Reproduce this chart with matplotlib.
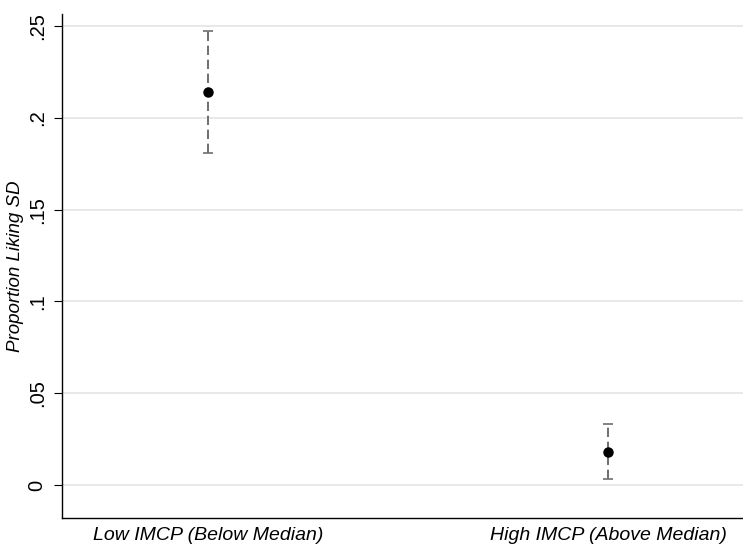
import numpy as np
import matplotlib.pyplot as plt

plt.rcParams['font.family'] = ['Liberation Sans', 'DejaVu Sans']

groups = ['Low IMCP (Below Median)', 'High IMCP (Above Median)']
means = [0.2142, 0.0180]
ci_low = [0.1806, 0.0030]
ci_high = [0.2474, 0.0330]
yticks = [0, 0.05, 0.10, 0.15, 0.20, 0.25]
yticklabels = ['0', '.05', '.1', '.15', '.2', '.25']

fig = plt.figure(figsize=(7.43, 5.45), dpi=100)
ax = fig.add_axes([0.0834, 0.0495, 0.9166, 0.9245])

x = np.arange(len(groups))
means = np.array(means)
err = np.vstack([means - np.array(ci_low), np.array(ci_high) - means])

eb = ax.errorbar(x, means, yerr=err, fmt='none', ecolor='#6e6e6e',
                 elinewidth=1.4, capsize=3.4, capthick=1.2, zorder=3)
eb[2][0].set_linestyle((0, (4.8, 2.4)))
ax.plot(x, means, 'o', color='black', markersize=6.5, zorder=4)

ax.set_xlim(-0.365, 1.3375)
ax.set_ylim(-0.018, 0.2565)
ax.set_yticks(yticks)
ax.set_yticklabels(yticklabels, rotation=90, va='center', fontsize=14.5)
ax.set_xticks(x)
ax.set_xticklabels(groups, style='italic', fontsize=14)
ax.tick_params(axis='x', length=0, pad=6.5)
ax.tick_params(axis='y', length=6, width=0.8, pad=5)

ax.grid(axis='y', color='#e6e6e6', linewidth=1.3)
ax.set_axisbelow(True)
for s in ['top', 'right']:
    ax.spines[s].set_visible(False)
for s in ['left', 'bottom']:
    ax.spines[s].set_color('black')
    ax.spines[s].set_linewidth(1.0)

ax.set_ylabel('Proportion Liking SD', style='italic', fontsize=13.5, labelpad=3)

fig.savefig('out.png', dpi=100)
